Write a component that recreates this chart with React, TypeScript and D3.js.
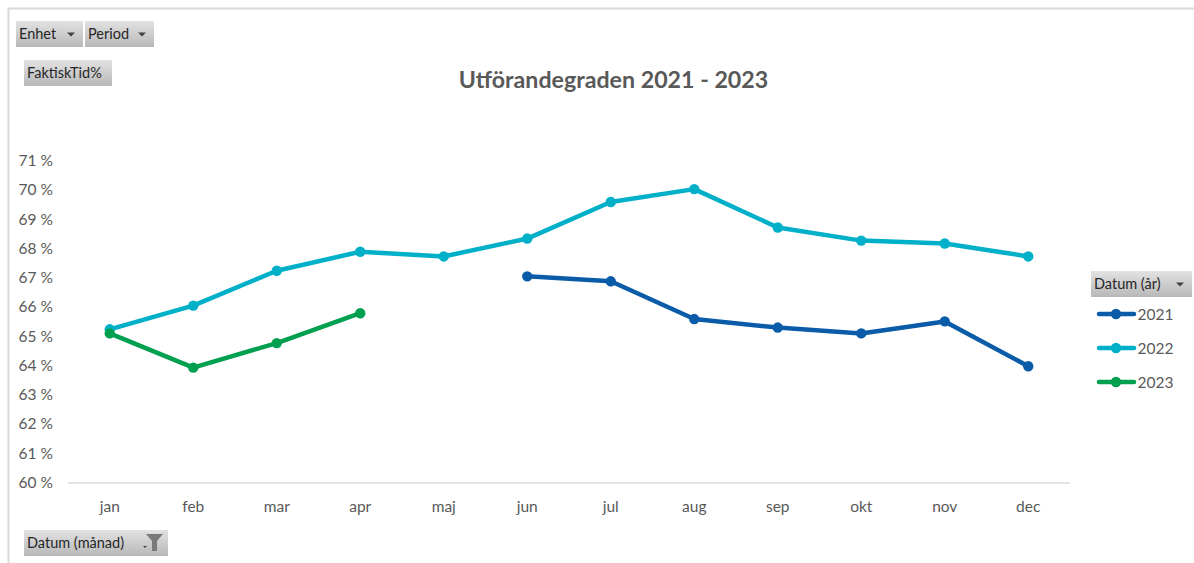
import React from "react";
import * as d3 from "d3";

const months = ["jan","feb","mar","apr","maj","jun","jul","aug","sep","okt","nov","dec"];
const yTicks = [60,61,62,63,64,65,66,67,68,69,70,71];
const s2021: (number|null)[] = [null,null,null,null,null,67.06,66.89,65.6,65.31,65.11,65.52,63.99];
const s2022: (number|null)[] = [65.25,66.06,67.25,67.9,67.74,68.35,69.6,70.04,68.73,68.28,68.18,67.74];
const s2023: (number|null)[] = [65.11,63.94,64.78,65.8,null,null,null,null,null,null,null,null];
const seriesNames = ["2021","2022","2023"];
const seriesValues = [s2021,s2022,s2023];
const seriesColors = ["#0b5ca8","#00b0c8","#00a050"];
const FONT = "Lato, 'Open Sans', sans-serif";

function Btn({x,y,w,h,label,arrow,filter}:{x:number;y:number;w:number;h:number;label:string;arrow?:boolean;filter?:boolean}){
  return <g>
    <rect x={x} y={y} width={w} height={h} fill="url(#btn)"/>
    <text x={x+3} y={y+h/2+5} fontSize={14.5} fill="#262626" fontFamily={FONT}>{label}</text>
    {arrow && <path d={`M${x+w-16} ${y+h/2-1.5}h8l-4 4z`} fill="#404040"/>}
    {filter && <>
      <path d={`M${x+w-25} ${y+h/2+3}h4l-2 2z`} fill="#404040"/>
      <path d={`M${x+w-22} ${y+4}h17l-6 7v10h-5v-10z`} fill="#7a7a7a"/>
    </>}
  </g>;
}

export default function App(){
  const x = d3.scaleBand<string>().domain(months).range([68,1070]);
  const y = d3.scaleLinear().domain([60,71]).range([483,161]);
  const cx = (m:string)=> (x(m) as number)+x.bandwidth()/2;
  const line = d3.line<number|null>()
    .defined(d=>d!==null)
    .x((_,i)=>cx(months[i]))
    .y(d=>y(d as number));
  return <svg width={1194} height={563} style={{position:"absolute",left:0,top:0,background:"#fff"}}>
    <defs>
      <linearGradient id="btn" x1="0" y1="0" x2="0" y2="1">
        <stop offset="0" stopColor="#e2e2e2"/>
        <stop offset="1" stopColor="#b8b8b8"/>
      </linearGradient>
    </defs>
    <path d="M1194 8.5H8.5V563" fill="none" stroke="#d9d9d9" strokeWidth={2}/>
    <Btn x={16} y={21} w={67} h={26} label="Enhet" arrow/>
    <Btn x={85} y={21} w={69} h={26} label="Period" arrow/>
    <Btn x={24} y={60} w={88} h={26} label="FaktiskTid%"/>
    <Btn x={24} y={530} w={144} h={26} label="Datum (månad)" filter/>
    <Btn x={1091} y={271} w={101} h={26} label="Datum (år)" arrow/>
    <text x={613.5} y={88} textAnchor="middle" fontSize={23.2} fontWeight={700} fill="#595959" fontFamily={FONT}>Utförandegraden 2021 - 2023</text>
    <line x1={68} x2={1070} y1={y(60)} y2={y(60)} stroke="#d9d9d9" strokeWidth={1.5}/>
    {yTicks.map(t=><text key={t} x={53} y={y(t)+5} textAnchor="end" fontSize={15.5} fill="#595959" fontFamily={FONT}>{t} %</text>)}
    {months.map(m=><text key={m} x={cx(m)} y={511.5} textAnchor="middle" fontSize={15.5} fill="#595959" fontFamily={FONT}>{m}</text>)}
    {seriesValues.map((vals,k)=><g key={k}>
      <path d={line(vals) as string} fill="none" stroke={seriesColors[k]} strokeWidth={4.5} strokeLinecap="round" strokeLinejoin="round"/>
      {vals.map((v,i)=>v===null?null:<circle key={i} cx={cx(months[i])} cy={y(v)} r={5.2} fill={seriesColors[k]}/>)}
    </g>)}
    {seriesNames.map((n,k)=>{
      const ly = 314+k*34;
      return <g key={n}>
        <line x1={1099} x2={1134} y1={ly} y2={ly} stroke={seriesColors[k]} strokeWidth={4.5} strokeLinecap="round"/>
        <circle cx={1116} cy={ly} r={5.2} fill={seriesColors[k]}/>
        <text x={1137.5} y={ly+6} fontSize={15.5} fill="#595959" fontFamily={FONT}>{n}</text>
      </g>;
    })}
  </svg>;
}
